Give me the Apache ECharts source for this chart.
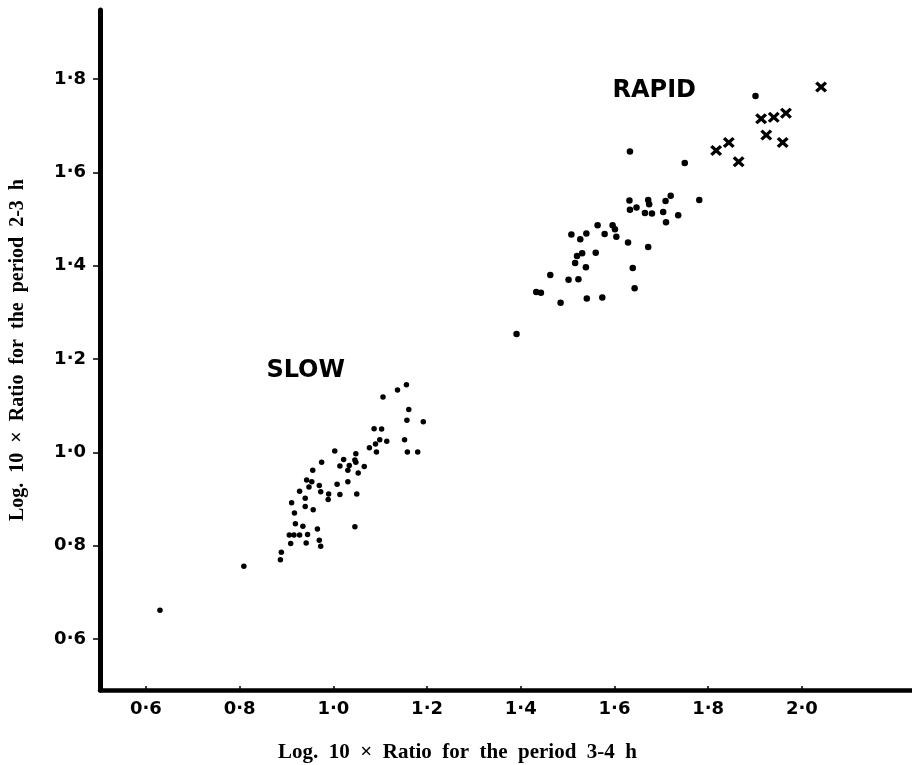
<!DOCTYPE html>
<html>
<head>
<meta charset="utf-8">
<script src="https://cdn.jsdelivr.net/npm/echarts@6/dist/echarts.min.js"></script>
<style>
  html, body { margin: 0; padding: 0; background: #fff; }
  #chart { width: 912px; height: 765px; }
</style>
</head>
<body>
<div id="chart"></div>
<script>
// tick positions on both axes
const xTicks = [0.6, 0.8, 1.0, 1.2, 1.4, 1.6, 1.8, 2.0]
const yTicks = [0.6, 0.8, 1.0, 1.2, 1.4, 1.6, 1.8]

// slow group (dots)
const slowX = [1.156, 1.137, 1.106, 1.161, 1.157, 1.192, 1.087, 1.103, 1.152, 1.114,
  1.099, 1.090, 1.077, 1.092, 1.158, 1.180, 1.003, 1.048, 1.022, 1.046,
  1.048, 1.034, 1.014, 1.066, 0.975, 1.031, 1.053, 0.956, 0.943, 0.954,
  1.031, 1.008, 0.970, 0.948, 0.928, 0.973, 0.990, 1.014, 1.050, 0.940,
  0.989, 0.911, 0.940, 0.957, 0.917, 0.919, 0.935, 0.966, 1.046, 0.906,
  0.916, 0.928, 0.945, 0.909, 0.942, 0.970, 0.973, 0.889, 0.887, 0.809,
  0.630]
const slowY = [1.145, 1.134, 1.119, 1.092, 1.069, 1.066, 1.051, 1.050, 1.027, 1.024,
  1.027, 1.018, 1.010, 1.001, 1.001, 1.001, 1.003, 0.997, 0.985, 0.984,
  0.979, 0.972, 0.971, 0.970, 0.979, 0.962, 0.956, 0.962, 0.941, 0.937,
  0.937, 0.932, 0.929, 0.926, 0.917, 0.916, 0.911, 0.910, 0.911, 0.902,
  0.899, 0.892, 0.884, 0.877, 0.870, 0.847, 0.842, 0.836, 0.841, 0.823,
  0.823, 0.823, 0.824, 0.805, 0.806, 0.812, 0.799, 0.786, 0.770, 0.756,
  0.662]

// rapid group (dots)
const rapidX = [1.391, 1.633, 1.750, 1.781, 1.632, 1.672, 1.674, 1.709, 1.720, 1.633,
  1.647, 1.665, 1.680, 1.704, 1.736, 1.710, 1.564, 1.596, 1.601, 1.508,
  1.540, 1.579, 1.527, 1.604, 1.629, 1.672, 1.531, 1.520, 1.560, 1.516,
  1.539, 1.639, 1.463, 1.502, 1.523, 1.433, 1.443, 1.485, 1.541, 1.574,
  1.643, 1.901]
const rapidY = [1.254, 1.645, 1.620, 1.541, 1.540, 1.541, 1.532, 1.539, 1.550, 1.520,
  1.525, 1.513, 1.512, 1.515, 1.508, 1.493, 1.487, 1.487, 1.478, 1.467,
  1.469, 1.468, 1.457, 1.462, 1.450, 1.440, 1.427, 1.421, 1.428, 1.406,
  1.397, 1.395, 1.380, 1.370, 1.371, 1.344, 1.342, 1.321, 1.330, 1.332,
  1.352, 1.764]

// crosses
const crossX = [2.041, 1.913, 1.940, 1.966, 1.924, 1.959, 1.817, 1.844, 1.865]
const crossY = [1.783, 1.715, 1.718, 1.727, 1.680, 1.664, 1.647, 1.664, 1.623]

// group labels
const groupNames = ['SLOW', 'RAPID']
const groupX = [0.941, 1.685]
const groupY = [1.176, 1.776]

const xTitle = 'Log.  10  ×  Ratio  for  the  period  3-4  h'
const yTitle = 'Log.  10  ×  Ratio  for  the  period  2-3  h'

const pairs = (xs, ys) => xs.map((x, i) => [x, ys[i]])
const fmt = v => v.toFixed(1).replace('.', '·')
// chunky hand-drawn looking x
const crossPath = 'path://M0,2L2,0L5,3L8,0L10,2L7,5L10,8L8,10L5,7L2,10L0,8L3,5Z'

const chart = echarts.init(document.getElementById('chart'))
chart.setOption({
  animation: false,
  backgroundColor: '#fff',
  grid: { left: 99, right: 0, top: 10, bottom: 75 },
  xAxis: {
    type: 'value',
    min: 0.502,
    max: 2.235,
    splitLine: { show: false },
    axisLine: { show: true, onZero: false, lineStyle: { color: '#000', width: 4.5 } },
    axisTick: { show: true, inside: true, length: 4, customValues: xTicks, lineStyle: { color: '#000', width: 1.5 } },
    axisLabel: {
      customValues: xTicks,
      formatter: fmt,
      margin: 10,
      color: '#000',
      fontFamily: 'DejaVu Sans',
      fontWeight: 'bold',
      fontSize: 18
    }
  },
  yAxis: {
    type: 'value',
    min: 0.491,
    max: 1.948,
    name: yTitle,
    nameLocation: 'middle',
    nameGap: 72,
    nameRotate: 90,
    nameTextStyle: { color: '#000', fontFamily: 'Liberation Serif', fontWeight: 'bold', fontSize: 20 },
    splitLine: { show: false },
    axisLine: { show: true, onZero: false, lineStyle: { color: '#000', width: 5 } },
    axisTick: { show: true, length: 7, customValues: yTicks, lineStyle: { color: '#000', width: 1.5 } },
    axisLabel: {
      customValues: yTicks,
      formatter: fmt,
      margin: 14,
      color: '#000',
      fontFamily: 'DejaVu Sans',
      fontWeight: 'bold',
      fontSize: 18
    }
  },
  graphic: [{
    type: 'text',
    left: 278,
    top: 742,
    style: {
      text: xTitle,
      fill: '#000',
      font: 'bold 21px "Liberation Serif"'
    }
  }],
  series: [
    {
      name: 'slow',
      type: 'scatter',
      symbol: 'circle',
      symbolSize: 5.5,
      itemStyle: { color: '#000', opacity: 1 },
      data: pairs(slowX, slowY)
    },
    {
      name: 'rapid',
      type: 'scatter',
      symbol: 'circle',
      symbolSize: 6.5,
      itemStyle: { color: '#000', opacity: 1 },
      data: pairs(rapidX, rapidY)
    },
    {
      name: 'cross',
      type: 'scatter',
      symbol: crossPath,
      symbolSize: [12, 11],
      itemStyle: { color: '#000', opacity: 1 },
      data: pairs(crossX, crossY)
    },
    {
      name: 'labels',
      type: 'scatter',
      symbolSize: 1,
      itemStyle: { color: '#fff', opacity: 0 },
      label: {
        show: true,
        position: 'inside',
        formatter: '{b}',
        color: '#000',
        opacity: 1,
        fontFamily: 'DejaVu Sans',
        fontWeight: 'bold',
        fontSize: 24
      },
      data: groupNames.map((n, i) => ({ name: n, value: [groupX[i], groupY[i]] }))
    }
  ]
})
</script>
</body>
</html>
